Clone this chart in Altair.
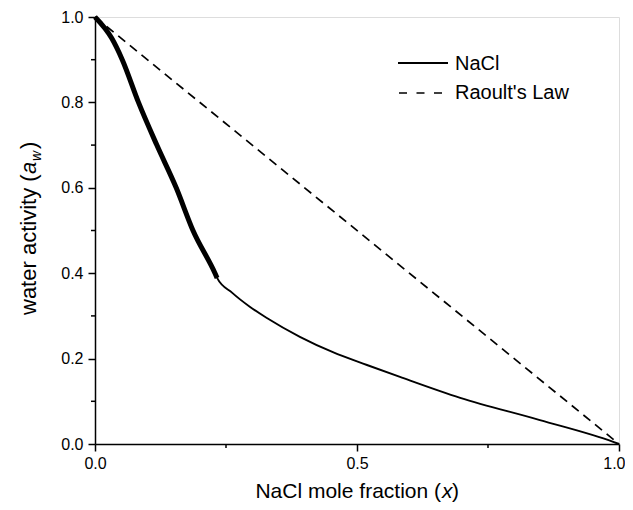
import altair as alt
import pandas as pd

# NaCl water activity curve
nacl_x = [0.0, 0.032, 0.052, 0.083, 0.118, 0.155, 0.187, 0.229, 0.233,
          0.262, 0.296, 0.328, 0.391, 0.454, 0.519, 0.582, 0.697, 0.849, 0.989, 1.0]
nacl_y = [1.0, 0.95, 0.90, 0.80, 0.70, 0.60, 0.50, 0.40, 0.389,
          0.354, 0.321, 0.295, 0.251, 0.215, 0.185, 0.157, 0.108, 0.056, 0.005, 0.0]
measured_limit = 0.233  # thick (dense data) portion ends here

# Raoult's law (ideal)
raoult_x = [0.0, 1.0]
raoult_y = [1.0, 0.0]

# axis ticks
x_major = [0.0, 0.5, 1.0]
x_minor = [0.25, 0.75]
y_major = [0.0, 0.2, 0.4, 0.6, 0.8, 1.0]
y_minor = [0.1, 0.3, 0.5, 0.7, 0.9]

legend_labels = ["NaCl", "Raoult's Law"]

FONT = "Liberation Sans"
W, H = 524, 427

nacl = pd.DataFrame({"x": nacl_x, "y": nacl_y})
nacl_thick = nacl[nacl["x"] <= measured_limit]
raoult = pd.DataFrame({"x": raoult_x, "y": raoult_y})

xs = alt.Scale(domain=[0, 1], nice=False, zero=False)
ys = alt.Scale(domain=[0, 1], nice=False, zero=False)
axis_common = dict(format=".1f", title=None, tickSize=7, grid=False,
                   labelFont=FONT, labelFontSize=16, labelColor="black",
                   labelFlush=False, labelOverlap=False,
                   tickColor="black", tickWidth=1.5,
                   domainColor="black", domainWidth=1.5)
ax_x = alt.Axis(values=x_major, labelPadding=4,
                labelAlign={"condition": {"test": "datum.value >= 1", "value": "right"},
                            "value": "center"},
                labelOffset={"condition": {"test": "datum.value >= 1", "value": 6},
                             "value": 0},
                **axis_common)
ax_y = alt.Axis(values=y_major, labelPadding=5, **axis_common)


def X(f="x"):
    return alt.X(f + ":Q", scale=xs, axis=ax_x)


def Y(f="y"):
    return alt.Y(f + ":Q", scale=ys, axis=ax_y)


thin = alt.Chart(nacl).mark_line(color="black", strokeWidth=1.9,
                                 interpolate="monotone").encode(
    x=X(), y=Y(), order="x:Q")
thick = alt.Chart(nacl_thick).mark_line(color="black", strokeWidth=5,
                                        interpolate="monotone").encode(
    x=X(), y=Y(), order="x:Q")
ideal = alt.Chart(raoult).mark_line(color="black", strokeWidth=1.7, strokeDash=[9, 6]).encode(
    x=X(), y=Y())

ym = alt.Chart(pd.DataFrame({"y": y_minor})).mark_rule(color="black", strokeWidth=1.5).encode(
    y=Y(), x=alt.value(-4), x2=alt.value(0))
xm = alt.Chart(pd.DataFrame({"x": x_minor})).mark_rule(color="black", strokeWidth=1.5).encode(
    x=X(), y=alt.value(H), y2=alt.value(H + 4))

# legend
leg_solid = alt.Chart(pd.DataFrame({"k": [legend_labels[0]]})).mark_rule(
    color="black", strokeWidth=1.9).encode(x=alt.value(303), x2=alt.value(353), y=alt.value(46))
leg_dash = alt.Chart(pd.DataFrame({"k": [legend_labels[1]]})).mark_rule(
    color="black", strokeWidth=1.7, strokeDash=[8, 9.5]).encode(
    x=alt.value(304), x2=alt.value(353), y=alt.value(76))


def txt(s, x, y, size, align="left", style="normal", angle=0):
    kw = dict(font=FONT, fontSize=size, align=align, baseline="alphabetic",
              color="black", fontStyle=style)
    if angle:
        kw["angle"] = angle
    return alt.Chart(pd.DataFrame({"t": [s]})).mark_text(**kw).encode(
        text="t:N", x=alt.value(x), y=alt.value(y))


leg_t1 = txt(legend_labels[0], 360, 53, 20)
leg_t2 = txt(legend_labels[1], 360, 82, 20)

# x-axis title: NaCl mole fraction (x)
XB = 481
xt1 = txt("NaCl mole fraction (", 346, XB, 21, align="right")
xt2 = txt("x", 347, XB, 21, style="italic")
xt3 = txt(")", 357, XB, 21)

# y-axis title: water activity (a_w)
YX = -59
yt1 = txt("water activity (", YX, 298, 22, angle=270)
yt2 = txt("a", YX, 157, 22, style="italic", angle=270)
yt3 = txt("w", YX + 5, 144, 14, style="italic", angle=270)
yt4 = txt(")", YX, 132, 22, angle=270)

chart = alt.layer(
    thin, thick, ideal, ym, xm, leg_solid, leg_dash, leg_t1, leg_t2,
    xt1, xt2, xt3, yt1, yt2, yt3, yt4
).properties(
    width=W, height=H,
    autosize=alt.AutoSizeParams(type="none"),
    padding={"left": 87, "top": 9, "right": 6, "bottom": 58},
).configure_view(
    stroke="black", strokeWidth=1.5
).configure(background="white")

chart.save("out.html", embed_options={"renderer": "svg", "actions": False})
